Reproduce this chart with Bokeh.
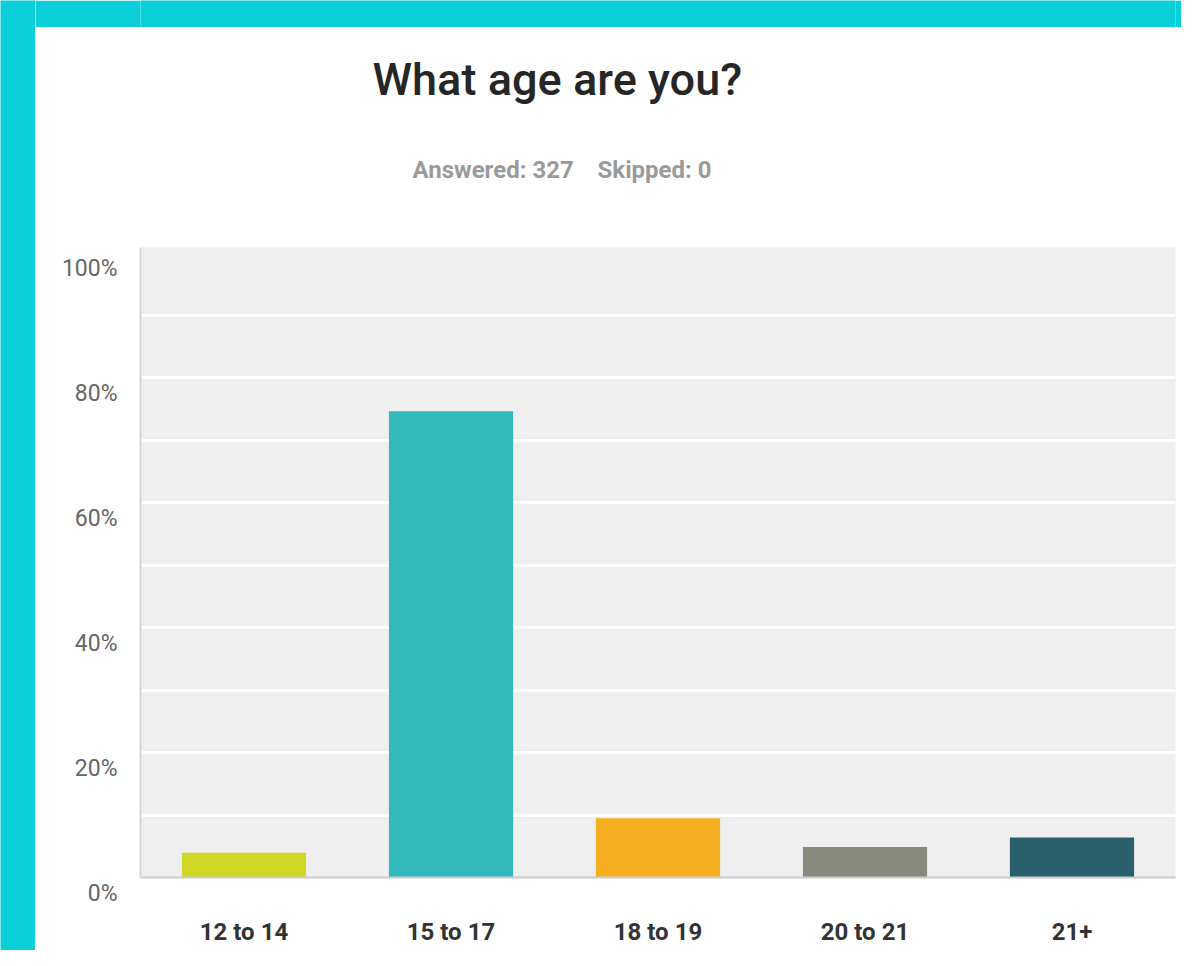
from bokeh.plotting import figure
from bokeh.models import FactorRange, Range1d, FixedTicker, Title
from bokeh.layouts import row, column
from bokeh.embed import file_html
from bokeh.resources import INLINE

# ---- data ----
categories = ["12 to 14", "15 to 17", "18 to 19", "20 to 21", "21+"]
percent = [3.98, 74.62, 9.48, 4.89, 6.42]
y_tick_values = [0, 20, 40, 60, 80, 100]
y_tick_labels = ["0%", "20%", "40%", "60%", "80%", "100%"]
grid_values = [10, 20, 30, 40, 50, 60, 70, 80, 90]
title_text = "What age are you?"
subtitle_text = "Answered: 327\u00a0\u00a0\u00a0\u00a0Skipped: 0"

# ---- styles ----
bar_colors = ["#cfd724", "#31b9bd", "#f5ae20", "#87897c", "#2a5f6c"]
CYAN = "#0bcfd8"


def strip(w, h):
    s = figure(width=w, height=h, toolbar_location=None, output_backend="svg",
               x_axis_type=None, y_axis_type=None, min_border=0,
               background_fill_color=CYAN, border_fill_color=CYAN,
               outline_line_color=None)
    s.grid.visible = False
    return s


p = figure(width=1146, height=923, x_range=FactorRange(*categories, range_padding=0),
           y_range=Range1d(0, 100.8), toolbar_location=None, output_backend="svg",
           min_border_left=105, min_border_right=6, min_border_top=220, min_border_bottom=73,
           background_fill_color="#efefef", border_fill_color="white",
           outline_line_color=None)

p.vbar(x=categories, top=percent, width=0.6, color=bar_colors, line_color=None)

sub = Title(text=subtitle_text, text_font="Roboto", text_font_style="bold",
            text_font_size="24px", text_color="#9a9a9a", align="left",
            offset=272, standoff=127)
p.add_layout(sub, "above")
ttl = Title(text=title_text, text_font="Roboto Medium, Roboto", text_font_style="normal",
            text_font_size="45px", text_color="#262626", align="left",
            offset=232, standoff=-31)
p.add_layout(ttl, "above")

# axes
p.yaxis.ticker = FixedTicker(ticks=y_tick_values)
p.yaxis.major_label_overrides = {v: "\n" + t for v, t in zip(y_tick_values, y_tick_labels)}
p.yaxis.major_label_text_font = "Roboto"
p.yaxis.major_label_text_font_size = "23px"
p.yaxis.major_label_text_color = "#666666"
p.yaxis.major_label_standoff = 17
p.yaxis.axis_line_color = "#d6d6d6"
p.yaxis.axis_line_width = 2
p.yaxis.major_tick_line_color = None
p.yaxis.minor_tick_line_color = None

p.xaxis.major_label_text_font = "Roboto"
p.xaxis.major_label_text_font_style = "bold"
p.xaxis.major_label_text_font_size = "24px"
p.xaxis.major_label_text_color = "#333333"
p.xaxis.major_label_standoff = 34
p.xaxis.axis_line_color = "#cccccc"
p.xaxis.axis_line_width = 2
p.xaxis.major_tick_line_color = None
p.xaxis.minor_tick_line_color = None

p.xgrid.visible = False
p.ygrid.ticker = FixedTicker(ticks=grid_values)
p.ygrid.grid_line_color = "white"
p.ygrid.grid_line_width = 3

layout = row(strip(35, 950), column(strip(1146, 27), p))

open("out.html", "w").write(file_html(layout, INLINE))
